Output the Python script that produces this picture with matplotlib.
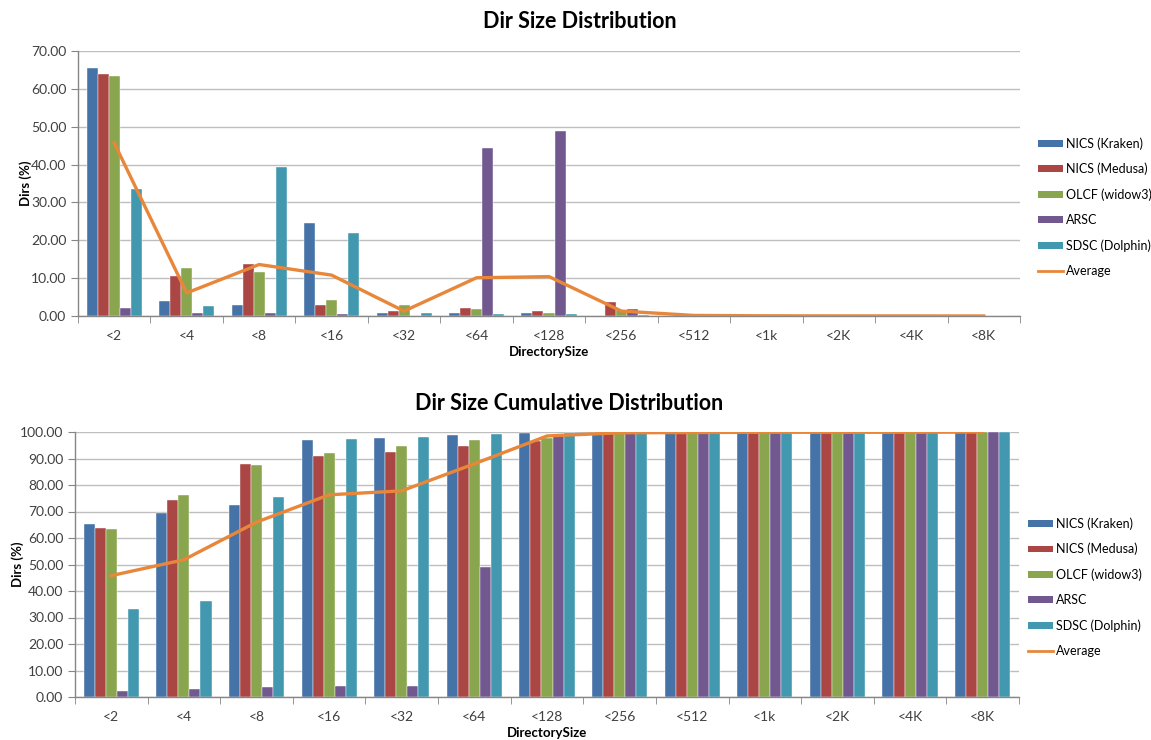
import numpy as np
import matplotlib
matplotlib.use('Agg')
import matplotlib.pyplot as plt
from matplotlib.patches import Patch
from matplotlib.lines import Line2D

plt.rcParams['font.family'] = ['Lato', 'DejaVu Sans']

sizes = ['<2', '<4', '<8', '<16', '<32', '<64', '<128', '<256', '<512',
         '<1k', '<2K', '<4K', '<8K']
systems = ['NICS (Kraken)', 'NICS (Medusa)', 'OLCF (widow3)', 'ARSC', 'SDSC (Dolphin)']

# share of directories per size bucket (%)
kraken  = [65.4, 4.0, 2.9, 24.6, 0.8, 0.8, 0.7, 0.1, 0.05, 0.03, 0.02, 0.01, 0.01]
medusa  = [63.9, 10.5, 13.7, 2.9, 1.4, 2.2, 1.2, 3.6, 0.2, 0.05, 0.03, 0.02, 0.01]
olcf    = [63.5, 12.7, 11.5, 4.1, 2.9, 1.9, 0.8, 1.7, 0.1, 0.05, 0.03, 0.02, 0.01]
arsc    = [2.1, 0.9, 0.9, 0.4, 0.1, 44.5, 48.9, 1.9, 0.3, 0.1, 0.05, 0.02, 0.02]
sdsc    = [33.5, 2.6, 39.3, 22.0, 0.9, 0.5, 0.4, 0.2, 0.05, 0.03, 0.02, 0.01, 0.01]
average = [45.7, 6.1, 13.6, 10.8, 1.3, 10.1, 10.4, 1.3, 0.15, 0.05, 0.03, 0.02, 0.01]

# cumulative share (%)
kraken_cum  = [65.4, 69.6, 72.5, 97.0, 97.6, 99.0, 99.6, 99.8, 99.9, 99.9, 100.0, 100.0, 100.0]
medusa_cum  = [63.8, 74.4, 88.1, 90.9, 92.4, 94.9, 96.5, 99.8, 99.9, 99.9, 100.0, 100.0, 100.0]
olcf_cum    = [63.4, 76.1, 87.6, 92.0, 94.8, 97.0, 97.8, 99.8, 99.9, 99.9, 100.0, 100.0, 100.0]
arsc_cum    = [2.1, 3.0, 3.9, 4.3, 4.3, 49.2, 98.5, 99.6, 99.8, 99.9, 99.9, 99.9, 100.0]
sdsc_cum    = [33.3, 36.1, 75.5, 97.3, 98.2, 99.4, 99.6, 99.8, 99.9, 99.9, 100.0, 100.0, 100.0]
average_cum = [45.8, 51.8, 66.0, 76.3, 77.8, 88.0, 98.5, 99.7, 99.8, 99.9, 99.9, 99.9, 100.0]

colors = ['#4572A7', '#AA4643', '#89A54E', '#71588F', '#4198AF']
avg_color = '#E8873A'
axis_grey = '#868686'
text_col = '#404040'


def draw_panel(ax, series, avg, ymax, step, title, title_x, title_y, xlabel_y,
               ylabel_x, legend_x, legend_y):
    x = np.arange(len(sizes))
    w = 0.152
    for i, (vals, c) in enumerate(zip(series, colors)):
        ax.bar(x + (i - 2) * w, vals, width=w, color=c, edgecolor='white',
               linewidth=0.3, zorder=2)
    ax.plot(x, avg, color=avg_color, linewidth=2.4, zorder=3)

    ax.set_xlim(-0.5, len(sizes) - 0.5)
    ax.set_ylim(0, ymax)
    ax.set_yticks(np.arange(0, ymax + 0.01, step))
    ax.set_yticklabels([f'{v:.2f}' for v in np.arange(0, ymax + 0.01, step)])
    ax.set_xticks(x)
    ax.set_xticklabels(sizes)
    ax.set_xticks(np.arange(-0.5, len(sizes), 1), minor=True)
    ax.tick_params(axis='x', which='major', length=0, pad=10, labelsize=10, colors=text_col)
    ax.tick_params(axis='x', which='minor', length=5, color=axis_grey, direction='out')
    ax.tick_params(axis='y', length=5, color=axis_grey, labelsize=10, colors=text_col)
    ax.yaxis.grid(True, color='#BEBEBE', linewidth=1.0, zorder=0)
    ax.set_axisbelow(True)
    for s in ['top', 'right']:
        ax.spines[s].set_visible(False)
    for s in ['left', 'bottom']:
        ax.spines[s].set_color(axis_grey)
        ax.spines[s].set_linewidth(1.0)

    bb = ax.get_position()
    cx = (bb.x0 + bb.x1) / 2
    fig.text(title_x, title_y, title, ha='center', va='center', fontsize=15.5,
             fontweight='bold', color='black')
    fig.text(cx, xlabel_y, 'DirectorySize', ha='center', va='center', fontsize=9.5,
             fontweight='bold', color='black')
    fig.text(ylabel_x, (bb.y0 + bb.y1) / 2, 'Dirs (%)', ha='center', va='center',
             rotation=90, fontsize=9.5, fontweight='bold', color='black')

    handles = [Patch(facecolor=c, edgecolor='none', label=l) for c, l in zip(colors, systems)]
    handles.append(Line2D([0], [0], color=avg_color, linewidth=2, label='Average'))
    fig.legend(handles=handles, loc='center left',
               bbox_to_anchor=(legend_x, legend_y),
               frameon=False, fontsize=9.0, handlelength=2.0, handleheight=0.45,
               handletextpad=0.25, labelspacing=1.05, labelcolor='black',
               borderpad=0, borderaxespad=0)


fig = plt.figure(figsize=(11.51, 7.40), dpi=100, facecolor='white')
ax1 = fig.add_axes([78 / 1151, 1 - 316 / 740, 942 / 1151, 265 / 740])
ax2 = fig.add_axes([75 / 1151, 1 - 697 / 740, 944 / 1151, 265 / 740])

draw_panel(ax1, [kraken, medusa, olcf, arsc, sdsc], average, 70, 10,
           'Dir Size Distribution', 580 / 1151, 1 - 21 / 740, 1 - 352 / 740,
           26 / 1151, 1038 / 1151, 1 - 207 / 740)
draw_panel(ax2, [kraken_cum, medusa_cum, olcf_cum, arsc_cum, sdsc_cum], average_cum, 100, 10,
           'Dir Size Cumulative Distribution', 569 / 1151, 1 - 403 / 740, 1 - 733 / 740,
           18 / 1151, 1028 / 1151, 1 - 587 / 740)

fig.savefig('out.png', dpi=100, facecolor='white')
